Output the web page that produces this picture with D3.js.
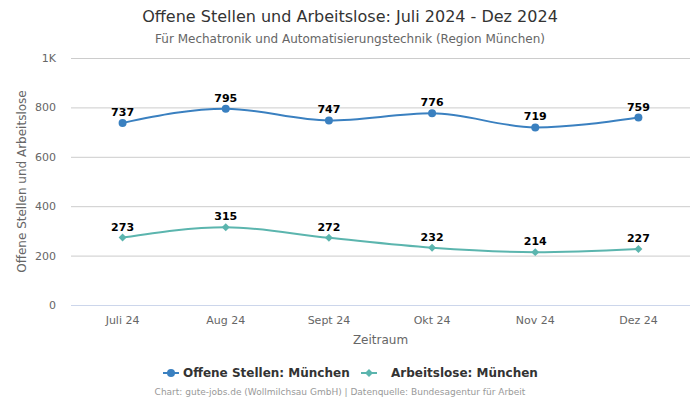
<!DOCTYPE html>
<html><head><meta charset="utf-8">
<script src="https://cdn.jsdelivr.net/npm/d3@7"></script>
<style>body{margin:0;background:#fff;font-family:"DejaVu Sans",sans-serif}</style>
</head><body>
<svg id="c" width="700" height="400"></svg>
<script>
const categories = ["Juli 24","Aug 24","Sept 24","Okt 24","Nov 24","Dez 24"];
const offeneStellen = [737,795,747,776,719,759];
const arbeitslose = [273,315,272,232,214,227];
const yTicks = [0,200,400,600,800,1000];
const yTickLabels = ["0","200","400","600","800","1K"];
const seriesNames = ["Offene Stellen: München","Arbeitslose: München"];

const svg = d3.select("#c");
const m = {l:71, r:690, t:58, b:305};
const x = d3.scaleBand().domain(categories).range([m.l,m.r]);
const y = d3.scaleLinear().domain([0,1000]).range([m.b,m.t]);

svg.append("text").attr("x",350).attr("y",22).attr("text-anchor","middle")
  .attr("font-size",16).attr("fill","#333").text("Offene Stellen und Arbeitslose: Juli 2024 - Dez 2024");
svg.append("text").attr("x",350).attr("y",43).attr("text-anchor","middle")
  .attr("font-size",12).attr("fill","#666").text("Für Mechatronik und Automatisierungstechnik (Region München)");

// grid
svg.append("g").selectAll("line").data(yTicks.filter(d=>d>0)).join("line")
  .attr("x1",m.l).attr("x2",m.r).attr("y1",d=>y(d)+0.5).attr("y2",d=>y(d)+0.5)
  .attr("stroke","#ccc").attr("stroke-width",1);
svg.append("line").attr("x1",m.l).attr("x2",m.r).attr("y1",m.b+0.5).attr("y2",m.b+0.5).attr("stroke","#ccd6eb");

svg.append("g").selectAll("text").data(yTicks).join("text")
  .attr("x",56).attr("y",d=>y(d)+4).attr("text-anchor","end")
  .attr("font-size",11).attr("fill","#666").text((d,i)=>yTickLabels[i]);
svg.append("g").selectAll("text").data(categories).join("text")
  .attr("x",d=>x(d)+x.bandwidth()/2).attr("y",324).attr("text-anchor","middle")
  .attr("font-size",11).attr("fill","#666").text(d=>d);

svg.append("text").attr("transform",`translate(26,${(m.t+m.b)/2}) rotate(-90)`)
  .attr("text-anchor","middle").attr("font-size",12).attr("fill","#666").text("Offene Stellen und Arbeitslose");
svg.append("text").attr("x",(m.l+m.r)/2).attr("y",344).attr("text-anchor","middle")
  .attr("font-size",12).attr("fill","#666").text("Zeitraum");

const cx = d=>x(d)+x.bandwidth()/2;
const line = d3.line().x((d,i)=>cx(categories[i])).y(d=>y(d)).curve(d3.curveMonotoneX);
const colors = ["#3a80c0","#5bb5ae"];
[offeneStellen, arbeitslose].forEach((s,k)=>{
  svg.append("path").attr("d",line(s)).attr("fill","none").attr("stroke",colors[k]).attr("stroke-width",2);
  const g = svg.append("g");
  if(k===0){
    g.selectAll("circle").data(s).join("circle").attr("cx",(d,i)=>cx(categories[i])).attr("cy",d=>y(d))
      .attr("r",4).attr("fill",colors[k]);
  } else {
    g.selectAll("path").data(s).join("path")
      .attr("d",d3.symbol(d3.symbolDiamond2,40)())
      .attr("transform",(d,i)=>`translate(${cx(categories[i])},${y(d)})`).attr("fill",colors[k]);
  }
  svg.append("g").selectAll("text").data(s).join("text")
    .attr("x",(d,i)=>cx(categories[i])).attr("y",d=>y(d)-7).attr("text-anchor","middle")
    .attr("font-size",11).attr("font-weight","bold").attr("fill","#000").text(d=>d);
});

// legend
const lg = [{x:163,tx:183},{x:361,tx:391}];
seriesNames.forEach((n,k)=>{
  svg.append("line").attr("x1",lg[k].x).attr("x2",lg[k].x+16).attr("y1",373).attr("y2",373).attr("stroke",colors[k]).attr("stroke-width",2);
  if(k===0) svg.append("circle").attr("cx",lg[k].x+8).attr("cy",373).attr("r",4).attr("fill",colors[k]);
  else svg.append("path").attr("d",d3.symbol(d3.symbolDiamond2,40)()).attr("transform",`translate(${lg[k].x+8},373)`).attr("fill",colors[k]);
  svg.append("text").attr("x",lg[k].tx).attr("y",377).attr("font-size",12).attr("font-weight","bold").attr("fill","#333").text(n);
});
svg.append("text").attr("x",340).attr("y",395).attr("text-anchor","middle").attr("font-size",9).attr("fill","#999")
  .text("Chart: gute-jobs.de (Wollmilchsau GmbH) | Datenquelle: Bundesagentur für Arbeit");
</script>
</body></html>
